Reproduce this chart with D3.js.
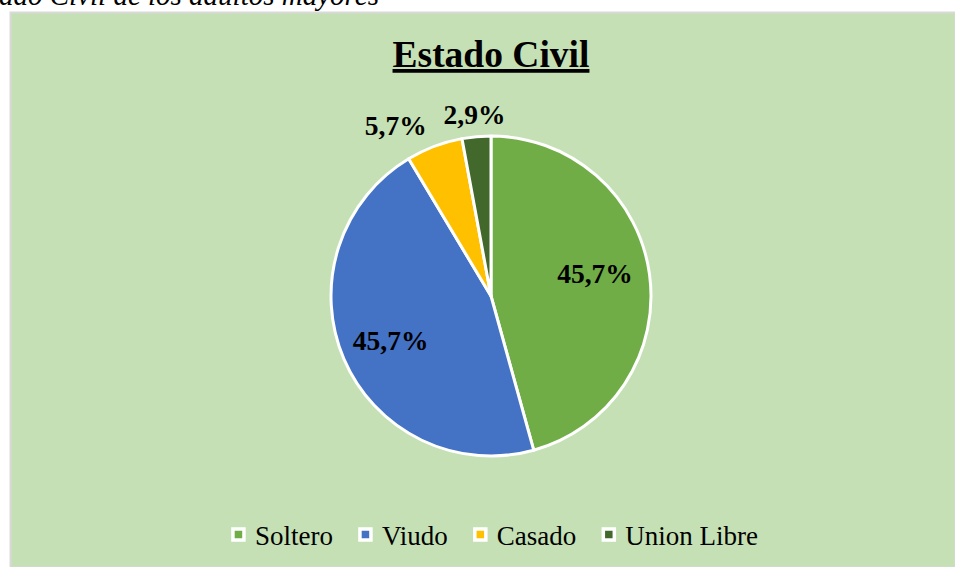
<!DOCTYPE html>
<html>
<head>
<meta charset="utf-8">
<script src="https://cdn.jsdelivr.net/npm/d3@7"></script>
<style>
  html, body { margin: 0; padding: 0; background: #ffffff; }
  svg { display: block; }
  text { font-family: "Liberation Serif", "Times New Roman", serif; }
</style>
</head>
<body>
<svg id="chart" width="955" height="567"></svg>
<script>
const categories = ["Soltero", "Viudo", "Casado", "Union Libre"];
const values = [45.7, 45.7, 5.7, 2.9];
const labels = ["45,7%", "45,7%", "5,7%", "2,9%"];
const colors = ["#70AD47", "#4472C4", "#FFC000", "#43682B"];
const chartTitle = "Estado Civil";
const caption = "ado Civil de los adultos mayores";

const W = 955, H = 567;
const svg = d3.select("#chart");

// caption (cut off at top, as in reference)
svg.append("text")
  .attr("x", -1).attr("y", 5)
  .attr("font-size", 29).attr("font-style", "italic")
  .attr("fill", "#000")
  .text(caption);

// chart area
svg.append("rect")
  .attr("x", 10.5).attr("y", 12.5)
  .attr("width", W - 10).attr("height", H - 12)
  .attr("fill", "#C5E0B4")
  .attr("stroke", "#D9D9D9").attr("stroke-width", 2);

// title
svg.append("text")
  .attr("x", 491).attr("y", 67)
  .attr("text-anchor", "middle")
  .attr("font-size", 37.5).attr("font-weight", "bold")
  .attr("text-decoration", "underline")
  .attr("fill", "#000")
  .text(chartTitle);

// pie
const cx = 491, cy = 296, R = 160;
const pie = d3.pie().sort(null).value(d => d.v);
const data = categories.map((c, i) => ({c, v: values[i], label: labels[i], color: colors[i]}));
const arcs = pie(data);
const arc = d3.arc().innerRadius(0).outerRadius(R);
const g = svg.append("g").attr("transform", `translate(${cx},${cy})`);

g.selectAll("path.slice").data(arcs).join("path")
  .attr("class", "slice")
  .attr("d", arc)
  .attr("fill", d => d.data.color)
  .attr("stroke", "#ffffff")
  .attr("stroke-width", 3)
  .attr("stroke-linejoin", "round");

// labels
const inArc = d3.arc().innerRadius(107).outerRadius(107);
const outArc = d3.arc().innerRadius(182).outerRadius(182);
g.selectAll("text.lbl").data(arcs).join("text")
  .attr("class", "lbl")
  .each(function(d) {
    const frac = (d.endAngle - d.startAngle) / (2 * Math.PI);
    const el = d3.select(this);
    if (frac > 0.1) {
      const [x, y] = inArc.centroid(d);
      // best-fit style: pull the label toward the horizontal axis of the slice
      el.attr("x", x - 2).attr("y", y < 0 ? y - 8 : y + 2).attr("text-anchor", "middle");
    } else {
      const [x, y] = outArc.centroid(d);
      const mid = (d.startAngle + d.endAngle) / 2;
      const s = Math.sin(mid);
      el.attr("x", x).attr("y", y)
        .attr("text-anchor", Math.abs(s) < 0.2 ? "middle" : (s < 0 ? "end" : "start"));
    }
  })
  .attr("dy", "0.35em")
  .attr("font-size", 27.5).attr("font-weight", "bold")
  .attr("fill", "#000")
  .text(d => d.data.label);

// legend
const legend = svg.append("g");
const fs = 27;
let items = legend.selectAll("g.item").data(data).join("g").attr("class", "item");
items.append("rect")
  .attr("x", 0).attr("y", -7)
  .attr("width", 11).attr("height", 11)
  .attr("fill", d => d.color)
  .attr("stroke", "#ffffff").attr("stroke-width", 3.5);
items.append("text")
  .attr("x", 22).attr("y", 0)
  .attr("dy", "0.33em")
  .attr("font-size", fs)
  .attr("fill", "#000")
  .text(d => d.c);
let xpos = 0;
const gap = 27;
items.each(function() {
  const bb = this.getBBox();
  d3.select(this).attr("transform", `translate(${xpos},0)`);
  xpos += bb.width + gap;
});
const totalW = xpos - gap;
legend.attr("transform", `translate(${494 - totalW / 2 + 1.5},536)`);
</script>
</body>
</html>
